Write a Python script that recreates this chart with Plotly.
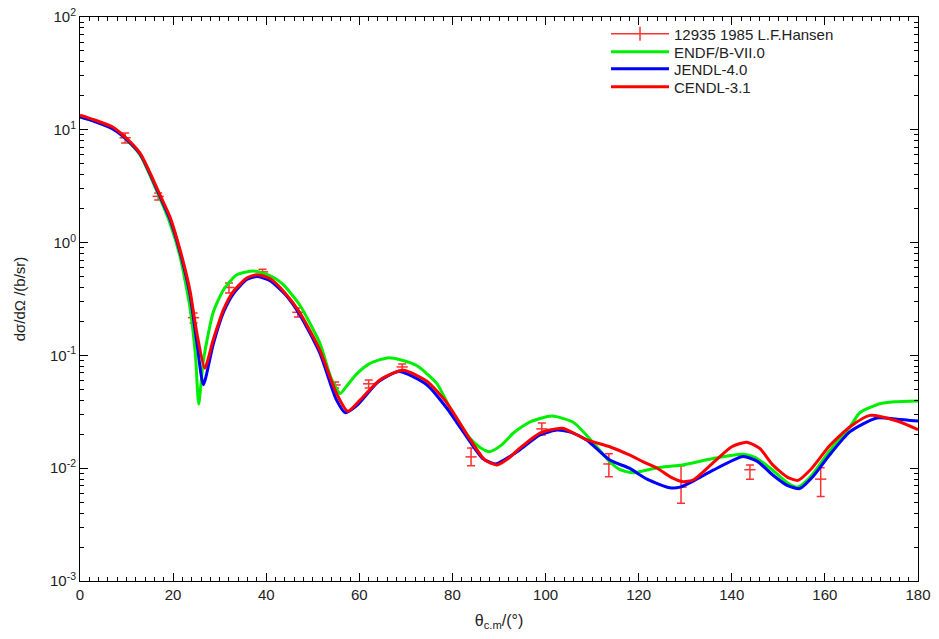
import plotly.graph_objects as go

# Experimental data: 12935 1985 L.F.Hansen
exp_x = [9.7, 16.8, 24.4, 32.0, 39.2, 46.8, 54.8, 62.0, 69.2, 84.0, 99.2, 113.6, 129.1, 143.9, 159.1]
exp_y = [8.5, 2.57, 0.216, 0.40, 0.55, 0.241, 0.0547, 0.056, 0.079, 0.0126, 0.0223, 0.0109, 0.0068, 0.0097, 0.0080]
exp_err_plus = [0.87, 0.18, 0.022, 0.038, 0.03, 0.022, 0.0033, 0.0045, 0.0049, 0.0025, 0.0029, 0.0025, 0.0037, 0.0010, 0.0021]
exp_err_minus = [0.86, 0.18, 0.022, 0.043, 0.03, 0.022, 0.0033, 0.0046, 0.0047, 0.0021, 0.0026, 0.0025, 0.0019, 0.0017, 0.0024]

# ENDF/B-VII.0
endf_x = [0, 3, 7, 9.2, 12.9, 17.2, 19.3, 21.5, 23.6, 24.8, 25.5, 26.5, 28.6, 30.8, 33.6, 37.3, 40.8, 43.5, 47.2,
          51.5, 54, 55.9, 57.5, 59.5, 62.3, 66, 69, 72.4, 76.7, 79.5, 83.8, 86, 88, 90.5, 93.1, 96.7, 101.4, 106,
          110.3, 113.8, 116, 118.8, 124, 128.9, 136, 142.4, 145, 148.8, 152, 154.2, 157, 161, 165.4, 167.5, 171.8,
          175, 180]
endf_y = [13.0, 12.0, 10.4, 8.8, 6.0, 2.45, 1.5, 0.75, 0.27, 0.1, 0.037, 0.09, 0.24, 0.38, 0.516, 0.56, 0.51, 0.43,
          0.28, 0.129, 0.062, 0.046, 0.055, 0.069, 0.085, 0.095, 0.091, 0.081, 0.056, 0.034, 0.0183, 0.0152, 0.014,
          0.016, 0.0205, 0.0258, 0.029, 0.0254, 0.0167, 0.0114, 0.0097, 0.0091, 0.0101, 0.0106, 0.0122, 0.0133,
          0.0125, 0.0096, 0.0074, 0.0068, 0.0085, 0.0142, 0.0233, 0.031, 0.0373, 0.0388, 0.0395]

# JENDL-4.0
jendl_x = [0, 3, 7, 9.2, 12.9, 17.2, 19.3, 21.5, 23.6, 25.1, 26.5, 28.6, 30.8, 32.9, 35.8, 38, 40.8, 44, 47.2,
           51.5, 55, 57, 59.5, 64, 68.5, 74.5, 78.8, 83.8, 86.5, 89.2, 91.5, 94.5, 98.8, 102.5, 105.5, 108.9,
           113.8, 118, 121.8, 126.7, 128.9, 132, 136, 142.4, 145.5, 148.8, 152, 154.6, 157.5, 161, 165.4, 171.1,
           175.5, 180]
jendl_y = [13.0, 11.9, 10.2, 8.8, 6.1, 2.55, 1.62, 0.82, 0.35, 0.13, 0.055, 0.125, 0.24, 0.35, 0.47, 0.50, 0.46,
           0.35, 0.23, 0.105, 0.041, 0.031, 0.036, 0.058, 0.072, 0.055, 0.034, 0.0171, 0.0122, 0.0109, 0.0121,
           0.0146, 0.0197, 0.0218, 0.0208, 0.0177, 0.0118, 0.0100, 0.0080, 0.0067, 0.0068, 0.0078, 0.0096, 0.0127,
           0.0115, 0.0087, 0.0070, 0.0066, 0.0085, 0.0131, 0.0211, 0.0279, 0.0272, 0.0262]

# CENDL-3.1
cendl_x = [0, 3, 7, 9.2, 12.9, 17.2, 19.3, 21.5, 23.6, 25.1, 26.8, 28.6, 30.8, 32.9, 35.8, 38, 40.8, 44, 47.2,
           51.5, 55.1, 57.5, 60.1, 64.4, 69.4, 74.5, 78.8, 83.8, 87, 89.5, 92, 94.5, 98.8, 103.6, 108.9, 113.8,
           118, 121, 124, 127, 129.5, 131.8, 136, 140, 143.2, 146, 148.8, 152, 154.2, 157, 161, 165.4, 169.7,
           175.5, 180]
cendl_y = [13.5, 12.3, 10.6, 9.0, 6.2, 2.64, 1.70, 0.86, 0.38, 0.158, 0.077, 0.137, 0.253, 0.367, 0.485, 0.52,
           0.48, 0.36, 0.24, 0.112, 0.046, 0.032, 0.040, 0.0605, 0.074, 0.059, 0.038, 0.0180, 0.0118, 0.0107,
           0.0122, 0.0151, 0.0205, 0.0226, 0.0178, 0.0155, 0.0131, 0.0114, 0.0100, 0.0083, 0.0076, 0.0079, 0.0112,
           0.0155, 0.0170, 0.0150, 0.0107, 0.0083, 0.0078, 0.0098, 0.0158, 0.0233, 0.0294, 0.0262, 0.022]

# Axis ticks
x_ticks = [0, 20, 40, 60, 80, 100, 120, 140, 160, 180]
y_tickvals = [1e-3, 1e-2, 1e-1, 1e0, 1e1, 1e2]
y_ticktext = ["10<sup>-3</sup>", "10<sup>-2</sup>", "10<sup>-1</sup>", "10<sup>0</sup>", "10<sup>1</sup>", "10<sup>2</sup>"]

FONT = "Liberation Sans, Arial, sans-serif"
NARROW = "Liberation Sans Narrow, Arial Narrow, Liberation Sans, Arial, sans-serif"
DATA_RED = "#ff3030"
TXT = "#222"

fig = go.Figure()

# Experimental points with error bars (legend handled by proxy)
fig.add_trace(go.Scatter(
    x=exp_x, y=exp_y, mode="markers", showlegend=False,
    marker=dict(symbol="line-ew", size=8, color=DATA_RED, line=dict(color=DATA_RED, width=1.5)),
    error_y=dict(type="data", symmetric=False, array=exp_err_plus, arrayminus=exp_err_minus,
                 color=DATA_RED, thickness=1.5, width=4),
))
# Legend proxy for the experimental data
fig.add_trace(go.Scatter(
    x=[None], y=[None], mode="lines+markers", name="12935 1985 L.F.Hansen", legend="legend",
    line=dict(color=DATA_RED, width=1.5),
    marker=dict(symbol="line-ns", size=10, color=DATA_RED, line=dict(color=DATA_RED, width=1.5)),
))

for name, xs, ys, col, lg in [("ENDF/B-VII.0", endf_x, endf_y, "#00ee00", "legend2"),
                              ("JENDL-4.0", jendl_x, jendl_y, "#0000ff", "legend3"),
                              ("CENDL-3.1", cendl_x, cendl_y, "#ff0000", "legend4")]:
    fig.add_trace(go.Scatter(
        x=xs, y=ys, mode="lines", name=name, legend=lg,
        line=dict(color=col, width=3, shape="spline", smoothing=0.6),
    ))

plot_top, plot_h = 17, 564
rows = [34, 52, 69, 87]
leg_common = dict(x=0.6277, xanchor="left", yanchor="middle", bgcolor="rgba(0,0,0,0)",
                  font=dict(family=FONT, size=15, color=TXT), itemwidth=58)
legends = {}
for i, key in enumerate(["legend", "legend2", "legend3", "legend4"]):
    legends[key] = dict(leg_common, y=1 - (rows[i] - plot_top) / plot_h)

fig.update_layout(
    width=939, height=639,
    margin=dict(l=80, r=21, t=17, b=58, autoexpand=False),
    paper_bgcolor="white", plot_bgcolor="white",
    font=dict(family=FONT, color=TXT, size=15),
    showlegend=True,
    **legends,
)

fig.update_xaxes(
    range=[0, 180], tickvals=x_ticks, automargin=False, ticklabeloverflow="allow",
    showline=True, mirror="allticks", linecolor="black", linewidth=1,
    ticks="inside", ticklen=8, tickcolor="black",
    minor=dict(ticks="inside", ticklen=4, dtick=2, tick0=0, tickcolor="black", showgrid=False),
    showgrid=False, zeroline=False,
    tickfont=dict(family=NARROW, size=15, color=TXT),
    title=dict(text="θ<sub>c.m</sub>/(°)", font=dict(family=NARROW, size=16, color=TXT), standoff=12),
)
fig.update_yaxes(
    type="log", range=[-3, 2], tickvals=y_tickvals, ticktext=y_ticktext, automargin=False,
    ticklabeloverflow="allow",
    showline=True, mirror="allticks", linecolor="black", linewidth=1,
    ticks="inside", ticklen=8, tickcolor="black",
    minor=dict(ticks="inside", ticklen=4, dtick="D1", tickcolor="black", showgrid=False),
    showgrid=False, zeroline=False,
    tickfont=dict(family=FONT, size=15, color=TXT),
    title=dict(text="dσ/dΩ /(b/sr)", font=dict(family=FONT, size=15, color=TXT), standoff=20),
)

fig.write_html("out.html", config={"displayModeBar": False},
               post_script="document.body.style.margin='0';document.body.style.overflow='hidden';")
